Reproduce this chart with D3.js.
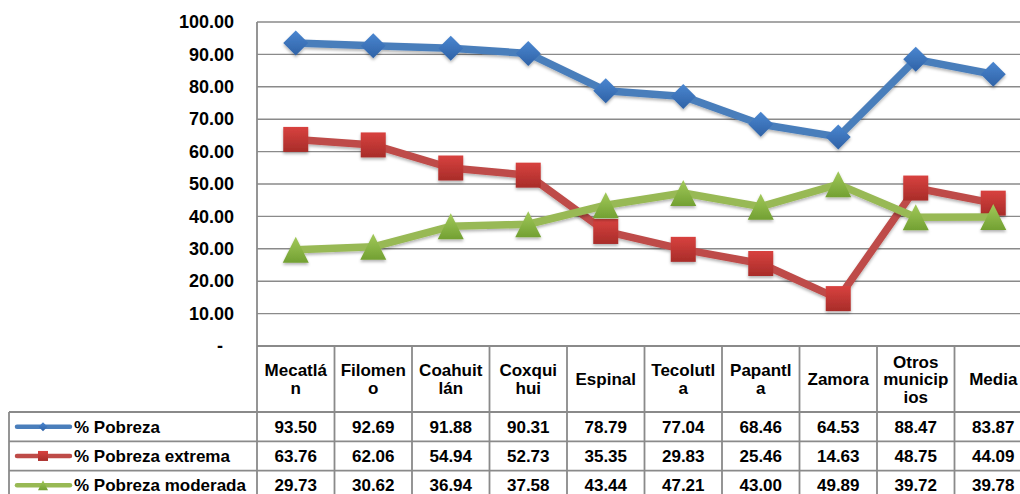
<!DOCTYPE html>
<html>
<head>
<meta charset="utf-8">
<script src="https://cdn.jsdelivr.net/npm/d3@7"></script>
<style>
  html, body { margin: 0; padding: 0; background: #ffffff; }
  svg { display: block; font-family: "Liberation Sans", Arial, sans-serif; }
</style>
</head>
<body>
<svg id="chart" width="1020" height="494"></svg>
<script>
// ---------- data ----------
const categories = ["Mecatlán", "Filomeno", "Coahuitlán", "Coxquihui", "Espinal",
                    "Tecolutla", "Papantla", "Zamora", "Otros municipios", "Media"];
const headerLines = [["Mecatlá", "n"], ["Filomen", "o"], ["Coahuit", "lán"], ["Coxqui", "hui"],
                     ["Espinal"], ["Tecolutl", "a"], ["Papantl", "a"], ["Zamora"],
                     ["Otros", "municip", "ios"], ["Media"]];
const seriesNames = ["% Pobreza", "% Pobreza extrema", "% Pobreza moderada"];
const pobreza  = [93.50, 92.69, 91.88, 90.31, 78.79, 77.04, 68.46, 64.53, 88.47, 83.87];
const extrema  = [63.76, 62.06, 54.94, 52.73, 35.35, 29.83, 25.46, 14.63, 48.75, 44.09];
const moderada = [29.73, 30.62, 36.94, 37.58, 43.44, 47.21, 43.00, 49.89, 39.72, 39.78];
const yTicks = [0, 10, 20, 30, 40, 50, 60, 70, 80, 90, 100];

const seriesValues = [pobreza, extrema, moderada];
const lineColors = ["#4a7ebb", "#be4b48", "#98b954"];
const gradTop = ["#4a86d0", "#d8423f", "#a2c95a"];
const gradBot = ["#2f62a6", "#a82c29", "#72a032"];
const shapes = ["diamond", "square", "triangle"];

// ---------- layout ----------
const plotLeft = 257, colW = 77.5;
const plotRight = plotLeft + colW * categories.length;
const yTop = 22, yZero = 346;
const headerBottom = 412, rowH = 29.3;
const legendLeft = 9;

const svg = d3.select("#chart");
const defs = svg.append("defs");

seriesNames.forEach((s, i) => {
  const g = defs.append("linearGradient").attr("id", "grad" + i)
    .attr("x1", 0).attr("y1", 0).attr("x2", 0).attr("y2", 1);
  g.append("stop").attr("offset", "0%").attr("stop-color", gradTop[i]);
  g.append("stop").attr("offset", "100%").attr("stop-color", gradBot[i]);
});
const f = defs.append("filter").attr("id", "shadow")
  .attr("x", "-30%").attr("y", "-30%").attr("width", "160%").attr("height", "170%");
f.append("feDropShadow").attr("dx", 0).attr("dy", 2).attr("stdDeviation", 1.6)
  .attr("flood-color", "#000").attr("flood-opacity", 0.3);

const x = d3.scaleBand().domain(categories).range([plotLeft, plotRight]).padding(0);
const y = d3.scaleLinear().domain([0, 100]).range([yZero, yTop]);

// ---------- gridlines ----------
svg.append("g").selectAll("line").data(yTicks.filter(t => t > 0)).join("line")
  .attr("x1", plotLeft).attr("x2", plotRight)
  .attr("y1", d => y(d)).attr("y2", d => y(d))
  .attr("stroke", "#8a8a8a").attr("stroke-width", 1.4);

// ---------- y axis ----------
const yAxis = d3.axisLeft(y).tickValues(yTicks).tickSize(0).tickPadding(23)
  .tickFormat(d => d === 0 ? "-" : d3.format(".2f")(d));
const ya = svg.append("g").attr("transform", `translate(${plotLeft},0)`).call(yAxis);
ya.select(".domain").remove();
ya.selectAll("text")
  .attr("font-size", "18px").attr("font-weight", "bold").attr("fill", "#000")
  .attr("font-family", "Liberation Sans, Arial, sans-serif")
  .attr("dx", d => d === 0 ? -11 : 0);

// ---------- table grid ----------
const tg = svg.append("g").attr("stroke", "#8a8a8a").attr("stroke-width", 1.8).attr("fill", "none");
tg.append("line").attr("x1", plotLeft).attr("x2", plotLeft).attr("y1", yTop).attr("y2", 494);
categories.forEach((c, i) => {
  const xr = x(c) + x.bandwidth();
  tg.append("line").attr("x1", xr).attr("x2", xr).attr("y1", yZero).attr("y2", 494);
});
tg.append("line").attr("x1", plotLeft).attr("x2", plotRight).attr("y1", yZero).attr("y2", yZero);
[0, 1, 2].forEach(i => {
  const yy = headerBottom + i * rowH;
  tg.append("line").attr("x1", legendLeft).attr("x2", plotRight).attr("y1", yy).attr("y2", yy);
});
tg.append("line").attr("x1", legendLeft).attr("x2", legendLeft).attr("y1", headerBottom).attr("y2", 494);

// ---------- header text ----------
const hdr = svg.append("g").attr("font-size", "17px").attr("font-weight", "bold")
  .attr("text-anchor", "middle").attr("fill", "#000");
const headerMid = (yZero + headerBottom) / 2;
categories.forEach((c, i) => {
  const lines = headerLines[i];
  lines.forEach((ln, j) => {
    hdr.append("text")
      .attr("x", x(c) + x.bandwidth() / 2)
      .attr("y", headerMid + (j - (lines.length - 1) / 2) * 17.5 + 6)
      .text(ln);
  });
});

// ---------- marker paths ----------
function markerPath(shape, s) {
  const h = s / 2;
  if (shape === "diamond") return `M0,${-h}L${h},0L0,${h}L${-h},0Z`;
  if (shape === "square") return `M${-h},${-h}H${h}V${h}H${-h}Z`;
  return `M0,${-h}L${h},${h}L${-h},${h}Z`;
}
const markerSize = [25, 25, 26];
const legendMarkerSize = [9, 10, 10];

// ---------- series lines ----------
seriesNames.forEach((name, i) => {
  const vals = seriesValues[i];
  const line = d3.line().x((d, k) => x(categories[k]) + x.bandwidth() / 2).y(d => y(d));
  const g = svg.append("g").attr("filter", "url(#shadow)");
  g.append("path").datum(vals).attr("d", line)
    .attr("fill", "none").attr("stroke", lineColors[i]).attr("stroke-width", 7.5)
    .attr("stroke-linejoin", "round");
  g.selectAll("path.m").data(vals).join("path").attr("class", "m")
    .attr("transform", (d, k) => `translate(${x(categories[k]) + x.bandwidth() / 2},${y(d)})`)
    .attr("d", markerPath(shapes[i], markerSize[i]))
    .attr("fill", `url(#grad${i})`);
});

// ---------- table rows ----------
const rows = svg.append("g").attr("font-size", "17px").attr("font-weight", "bold").attr("fill", "#000");
seriesNames.forEach((name, i) => {
  const cy = headerBottom + i * rowH + rowH / 2;
  rows.append("line").attr("x1", 17).attr("x2", 70).attr("y1", cy).attr("y2", cy)
    .attr("stroke", lineColors[i]).attr("stroke-width", 4.5).attr("stroke-linecap", "round");
  rows.append("path").attr("transform", `translate(43,${cy})`)
    .attr("d", markerPath(shapes[i], legendMarkerSize[i])).attr("fill", `url(#grad${i})`);
  rows.append("text").attr("x", 74).attr("y", cy + 6).text(name);
  seriesValues[i].forEach((v, k) => {
    rows.append("text").attr("text-anchor", "middle")
      .attr("x", x(categories[k]) + x.bandwidth() / 2).attr("y", cy + 6)
      .text(d3.format(".2f")(v));
  });
});
</script>
</body>
</html>
